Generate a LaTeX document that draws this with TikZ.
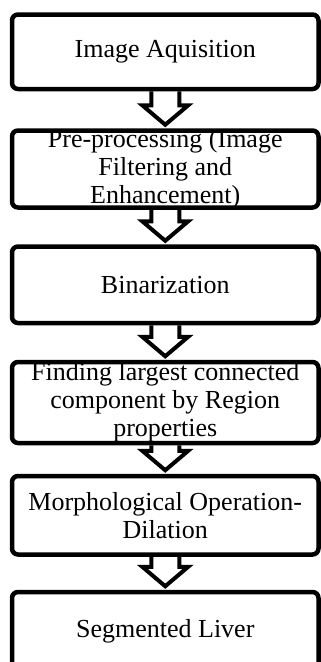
\documentclass[tikz,border=0pt]{standalone}
\usepackage{fontspec}
\setmainfont{Liberation Serif}
\usetikzlibrary{calc}
\tikzset{
  stagebox/.style={draw, line width=4.5pt, rounded corners=6pt, minimum width=306.5pt, inner sep=0pt},
  stagetext/.style={align=center, inner sep=0pt, font=\fontsize{26}{28}\selectfont},
  blockarrow/.style={draw, line width=4pt, line join=miter}
}
\newcommand\flowarrow[2]{%
  \draw[blockarrow] ($(#1.south)+(-14,0)$) -- ($(#2.north)+(-14,-23)$) -- ($(#2.north)+(-23,-23)$)
    -- ($(#2.north)+(0,-3.5)$) -- ($(#2.north)+(23,-23)$) -- ($(#2.north)+(14,-23)$) -- ($(#1.south)+(14,0)$);
}
\begin{document}
\begin{tikzpicture}[x=1pt,y=-1pt]
\useasboundingbox (0,0) rectangle (321,662);
\node[stagebox, minimum height=74.5pt] (b1) at (165.25,51.75) {};
\node[stagebox, minimum height=77pt] (b2) at (165.25,169) {};
\node[stagebox, minimum height=76.5pt] (b3) at (165.25,284.75) {};
\node[stagebox, minimum height=81pt] (b4) at (165.25,402.5) {};
\node[stagebox, minimum height=78.5pt] (b5) at (165.25,515.25) {};
\node[stagebox, minimum height=80pt] (b6) at (165.25,632) {};
\node[stagetext] (t1) at (b1.center) {Image Aquisition};
\node[stagetext] (t2) at (b2.center) {Pre-processing (Image\\Filtering and\\Enhancement)};
\node[stagetext] (t3) at (b3.center) {Binarization};
\node[stagetext] (t4) at (b4.center) {Finding largest connected\\component by Region\\properties};
\node[stagetext] (t5) at (b5.center) {Morphological Operation-\\Dilation};
\node[stagetext] (t6) at ($(b6.center)+(0,-1)$) {Segmented Liver};
\flowarrow{b1}{b2}
\flowarrow{b2}{b3}
\flowarrow{b3}{b4}
\flowarrow{b4}{b5}
\flowarrow{b5}{b6}
\end{tikzpicture}
\end{document}
